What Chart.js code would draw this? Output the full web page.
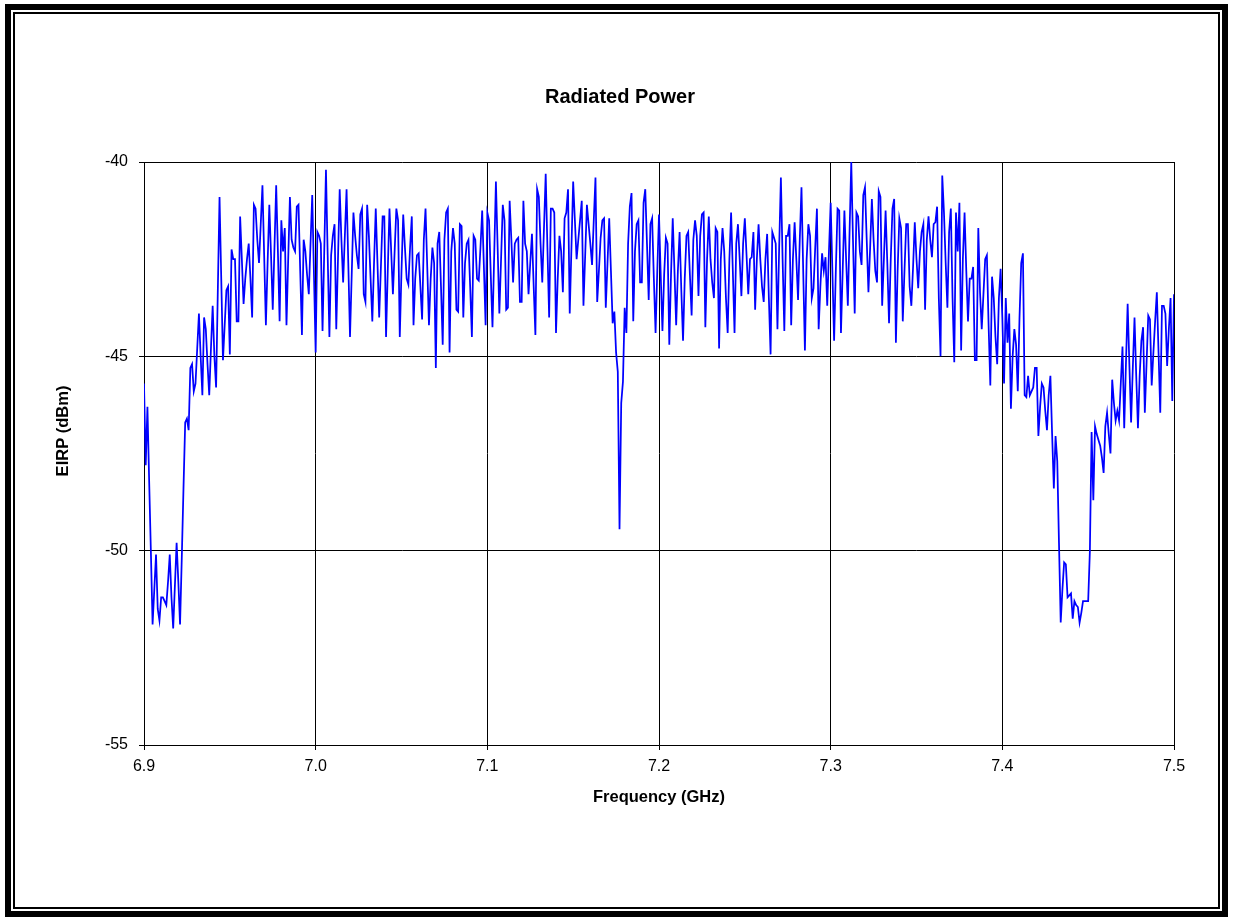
<!DOCTYPE html>
<html>
<head>
<meta charset="utf-8">
<title>Radiated Power</title>
<script src="https://cdn.jsdelivr.net/npm/chart.js@4.4.1/dist/chart.umd.min.js"></script>
<style>
  html, body { margin: 0; padding: 0; background: #fff; }
  #wrap { position: relative; width: 1233px; height: 917px; overflow: hidden; }
  #chart { position: absolute; left: 0; top: 0; }
  #frame { position: absolute; left: 5px; top: 4px; width: 1223px; height: 913px; border: 6px solid #000; box-sizing: border-box; pointer-events: none; }
  #frame-inner { position: absolute; left: 2px; top: 2px; right: 2px; bottom: 2px; border: 2px solid #000; }
</style>
</head>
<body>
<div id="wrap">
  <canvas id="chart" width="1233" height="917"></canvas>
  <div id="frame"><div id="frame-inner"></div></div>
</div>
<script>
const chartTitle = 'Radiated Power';
const xTitle = 'Frequency (GHz)';
const yTitle = 'EIRP (dBm)';

// sweep 6.900 .. 7.500 GHz, 1 MHz steps
const freqStart = 6.9;
const freqStep = 0.001;

// EIRP, one value per step
const eirpDbm = [
  -45.7, -47.8, -46.3, -48.2, -50.0, -51.9, -51.0, -50.1, -51.5, -51.8,
  -51.2, -51.2, -51.3, -51.4, -50.8, -50.1, -51.2, -52.0, -50.9, -49.8,
  -50.8, -51.9, -50.2, -48.4, -46.7, -46.6, -46.9, -45.3, -45.2, -45.9,
  -45.7, -44.8, -43.9, -45.0, -46.0, -44.0, -44.3, -45.2, -46.0, -44.8,
  -43.7, -45.0, -45.8, -43.3, -40.9, -43.0, -45.1, -44.2, -43.3, -43.2,
  -44.95, -42.25, -42.5, -42.5, -44.1, -44.1, -41.4, -42.5, -43.65, -43.0,
  -42.5, -42.1, -43.0, -44.0, -41.1, -41.2, -42.0, -42.6, -41.6, -40.6,
  -42.4, -44.2, -42.6, -41.1, -42.4, -43.8, -42.2, -40.6, -42.3, -44.1,
  -41.5, -42.3, -41.7, -44.2, -42.5, -40.9, -42.0, -42.2, -42.3, -41.15,
  -41.1, -42.8, -44.45, -42.0, -42.3, -42.9, -43.4, -42.1, -40.85, -42.9,
  -44.9, -41.8, -41.9, -42.1, -44.35, -42.3, -40.2, -42.4, -44.5, -42.4,
  -41.9, -41.6, -44.3, -42.5, -40.7, -42.0, -43.1, -41.9, -40.7, -42.6,
  -44.5, -42.9, -41.3, -41.9, -42.4, -42.75, -41.35, -41.2, -43.4, -43.6,
  -41.1, -41.9, -43.0, -44.1, -42.6, -41.2, -42.6, -44.0, -42.7, -41.4,
  -41.4, -44.5, -42.8, -41.2, -42.3, -43.4, -42.3, -41.2, -41.5, -44.5,
  -42.8, -41.35, -42.2, -43.0, -43.15, -42.2, -41.4, -44.2, -43.0, -42.4,
  -42.35, -43.2, -44.05, -42.0, -41.2, -42.7, -44.2, -43.0, -42.2, -42.6,
  -45.3, -42.1, -41.8, -43.2, -44.7, -42.0, -41.3, -41.2, -44.9, -42.3,
  -41.7, -42.1, -43.8, -43.85, -41.6, -41.65, -44.0, -42.6, -42.1, -42.0,
  -43.2, -44.5, -41.9, -42.0, -43.0, -43.05, -42.2, -41.25, -42.7, -44.2,
  -41.3, -41.5, -42.9, -44.25, -42.4, -40.5, -42.2, -43.9, -42.5, -41.1,
  -41.5, -43.8, -43.75, -41.0, -42.0, -43.1, -42.1, -42.0, -41.95, -43.6,
  -43.6, -41.0, -42.1, -42.3, -43.4, -42.6, -41.85, -43.2, -44.45, -40.7,
  -40.9, -42.1, -43.1, -41.7, -40.3, -42.2, -44.0, -41.2, -41.2, -41.3,
  -44.4, -43.0, -41.9, -42.3, -43.35, -41.45, -41.3, -40.7, -43.9, -42.2,
  -40.5, -41.5, -42.5, -42.0, -41.5, -41.0, -43.7, -42.4, -41.1, -41.6,
  -42.1, -42.65, -41.5, -40.4, -43.6, -42.8, -41.95, -41.5, -41.45, -43.75,
  -42.6, -41.45, -42.8, -44.15, -43.85, -44.9, -45.4, -49.45, -46.2, -45.65,
  -43.75, -44.4, -42.1, -41.15, -40.8, -44.1, -42.3, -41.6, -41.5, -43.1,
  -43.1, -41.05, -40.7, -42.1, -43.55, -41.6, -41.45, -43.0, -44.4, -42.8,
  -41.35, -42.9, -44.35, -42.9, -41.95, -42.1, -44.7, -42.9, -41.45, -42.8,
  -44.2, -42.8, -41.8, -43.3, -44.6, -43.0, -41.9, -41.8, -42.9, -43.95,
  -42.0, -41.5, -41.9, -43.45, -41.9, -41.35, -41.3, -44.25, -42.5, -41.4,
  -42.5, -43.1, -43.5, -41.7, -41.8, -44.8, -42.5, -41.7, -42.3, -43.5,
  -44.4, -42.5, -41.3, -42.8, -44.4, -42.1, -41.6, -42.5, -43.45, -42.1,
  -41.45, -42.4, -43.4, -42.5, -42.45, -41.8, -43.8, -42.5, -41.6, -42.5,
  -43.2, -43.6, -42.5, -41.85, -43.5, -44.95, -41.8, -41.95, -42.1, -44.3,
  -42.2, -40.4, -42.5, -44.35, -41.9, -41.9, -41.6, -44.2, -42.5, -41.55,
  -42.5, -43.55, -42.0, -40.65, -42.8, -44.85, -42.5, -41.6, -41.9, -43.5,
  -43.25, -42.2, -41.2, -44.3, -43.2, -42.35, -42.8, -42.45, -43.7, -42.3,
  -41.05, -42.8, -44.6, -42.8, -41.2, -41.25, -44.4, -42.8, -41.25, -42.5,
  -43.7, -41.8, -40.0, -42.0, -43.9, -41.3, -41.4, -42.3, -42.65, -40.85,
  -40.65, -42.0, -43.35, -42.2, -40.95, -42.0, -42.8, -43.1, -40.75, -40.9,
  -43.7, -42.5, -41.25, -42.6, -44.15, -42.5, -41.2, -40.95, -44.65, -42.8,
  -41.45, -41.7, -44.1, -42.8, -41.6, -41.6, -43.2, -43.7, -42.7, -41.55,
  -42.5, -43.25, -42.3, -41.8, -41.6, -43.8, -42.0, -41.4, -42.0, -42.45,
  -41.6, -41.55, -41.15, -43.5, -45.0, -40.35, -41.3, -42.6, -43.75, -41.8,
  -41.2, -43.5, -45.15, -41.3, -42.3, -41.05, -44.85, -42.5, -41.3, -42.8,
  -44.1, -43.0, -43.0, -42.7, -45.1, -45.1, -41.7, -43.35, -44.3, -43.4,
  -42.5, -42.4, -44.2, -45.75, -42.95, -43.5, -44.5, -45.2, -43.5, -42.75,
  -44.0, -45.7, -43.5, -44.65, -43.9, -46.35, -45.0, -44.3, -44.7, -45.9,
  -44.0, -42.6, -42.35, -46.0, -46.05, -45.5, -46.0, -45.9, -45.8, -45.3,
  -45.3, -47.05, -46.3, -45.7, -45.8, -46.4, -46.9, -46.0, -45.5, -47.0,
  -48.4, -47.05, -47.7, -49.8, -51.85, -51.0, -50.3, -50.35, -51.2, -51.15,
  -51.1, -51.75, -51.3, -51.4, -51.45, -51.85, -51.6, -51.3, -51.3, -51.3,
  -51.3, -50.0, -46.95, -48.7, -46.8, -47.0, -47.15, -47.3, -47.6, -48.0,
  -46.8, -46.45, -47.0, -47.5, -45.6, -46.2, -46.65, -46.4, -46.65, -45.7,
  -44.75, -46.85, -45.2, -43.65, -45.2, -46.7, -45.3, -44.0, -45.5, -46.85,
  -45.5, -44.6, -44.25, -46.45, -45.2, -43.95, -44.05, -45.75, -44.9, -44.1,
  -43.35, -44.9, -46.45, -43.7, -43.7, -43.9, -45.25, -44.3, -43.5, -46.15,
  -43.4
];

const freqGHz = eirpDbm.map((_, i) => +(freqStart + i * freqStep).toFixed(3));

const xTicks = [6.9, 7.0, 7.1, 7.2, 7.3, 7.4, 7.5];
const yTicks = [-55, -50, -45, -40];

Chart.defaults.font.family = '"Liberation Sans", Arial, sans-serif';
Chart.defaults.color = '#000';

// y axis title sits a bit above the axis middle in the original
const yTitlePlugin = {
  id: 'yTitle',
  afterDraw(chart) {
    const c = chart.ctx;
    c.save();
    c.translate(63, 431);
    c.rotate(-Math.PI / 2);
    c.font = 'bold 16.5px "Liberation Sans", Arial, sans-serif';
    c.fillStyle = '#000';
    c.textAlign = 'center';
    c.textBaseline = 'middle';
    c.fillText(yTitle, 0, 0);
    c.restore();
  }
};

const ctx = document.getElementById('chart').getContext('2d');

const powerChart = new Chart(ctx, {
  type: 'line',
  data: {
    datasets: [{
      label: yTitle,
      data: freqGHz.map((f, i) => ({ x: f, y: eirpDbm[i] })),
      borderColor: '#0000ff',
      borderWidth: 1.75,
      pointRadius: 0,
      tension: 0,
      fill: false
    }]
  },
  options: {
    responsive: false,
    animation: false,
    layout: { padding: { left: 66, top: 85, right: 59, bottom: 110 } },
    plugins: {
      legend: { display: false },
      tooltip: { enabled: false },
      title: {
        display: true,
        text: chartTitle,
        color: '#000',
        font: { size: 20, weight: 'bold', lineHeight: 1.2 },
        padding: { top: 0, bottom: 53 }
      }
    },
    scales: {
      x: {
        type: 'linear',
        min: 6.9,
        max: 7.5,
        afterBuildTicks: s => { s.ticks = xTicks.map(v => ({ value: v })); },
        afterFit: s => { s.height = 62; },
        ticks: {
          color: '#000',
          font: { size: 16 },
          padding: 7,
          maxRotation: 0,
          autoSkip: false,
          callback: v => Number(v).toFixed(1)
        },
        grid: { color: '#000', lineWidth: 1, tickLength: 5 },
        border: { color: '#000', width: 1 },
        title: {
          display: true,
          text: xTitle,
          color: '#000',
          font: { size: 16.5, weight: 'bold' },
          padding: 0
        }
      },
      y: {
        type: 'linear',
        min: -55,
        max: -40,
        afterBuildTicks: s => { s.ticks = yTicks.map(v => ({ value: v })); },
        afterFit: s => { s.width = 78; },
        ticks: {
          color: '#000',
          font: { size: 16 },
          padding: 11,
          callback: v => String(v)
        },
        grid: { color: '#000', lineWidth: 1, tickLength: 5 },
        border: { color: '#000', width: 1 }
      }
    }
  },
  plugins: [yTitlePlugin]
});
</script>
</body>
</html>
